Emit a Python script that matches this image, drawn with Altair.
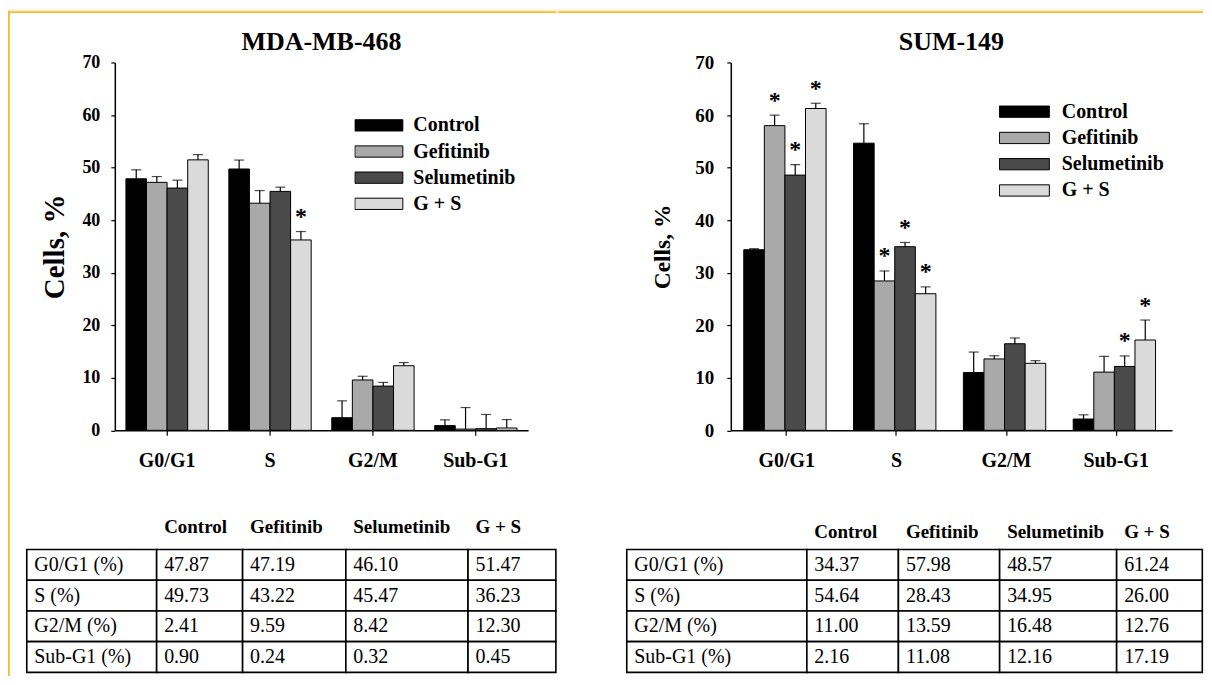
import altair as alt
import pandas as pd

SERIF = "Liberation Serif, Times New Roman, DejaVu Serif, serif"

# ---------------- data ----------------
phases = ["G0/G1", "S", "G2/M", "Sub-G1"]
treatments = ["Control", "Gefitinib", "Selumetinib", "G + S"]
row_labels = ["G0/G1 (%)", "S (%)", "G2/M (%)", "Sub-G1 (%)"]
colors = ["#000000", "#a9a9a9", "#4a4a4a", "#dadada"]
titles = ["MDA-MB-468", "SUM-149"]

# MDA-MB-468 means (%), per treatment, ordered by phase
mda_control = [47.87, 49.73, 2.41, 0.90]
mda_gefitinib = [47.19, 43.22, 9.59, 0.24]
mda_selumetinib = [46.10, 45.47, 8.42, 0.32]
mda_gs = [51.47, 36.23, 12.30, 0.45]
# error (upper bar length)
mda_err_control = [1.7, 1.7, 3.2, 1.1]
mda_err_gefitinib = [1.1, 2.4, 0.7, 4.1]
mda_err_selumetinib = [1.5, 0.8, 0.7, 2.7]
mda_err_gs = [1.0, 1.6, 0.6, 1.6]
mda_sig_control = [False, False, False, False]
mda_sig_gefitinib = [False, False, False, False]
mda_sig_selumetinib = [False, False, False, False]
mda_sig_gs = [False, True, False, False]

# SUM-149
sum_control = [34.37, 54.64, 11.00, 2.16]
sum_gefitinib = [57.98, 28.43, 13.59, 11.08]
sum_selumetinib = [48.57, 34.95, 16.48, 12.16]
sum_gs = [61.24, 26.00, 12.76, 17.19]
sum_err_control = [0.2, 3.7, 3.9, 0.8]
sum_err_gefitinib = [2.0, 1.9, 0.6, 3.0]
sum_err_selumetinib = [2.0, 0.8, 1.1, 2.0]
sum_err_gs = [1.0, 1.3, 0.5, 3.8]
sum_sig_control = [False, False, False, False]
sum_sig_gefitinib = [True, True, False, False]
sum_sig_selumetinib = [True, True, False, True]
sum_sig_gs = [True, True, False, True]


def long_df(means, errs, sigs):
    recs = []
    for t, m, e, s in zip(treatments, means, errs, sigs):
        for i, p in enumerate(phases):
            recs.append(dict(phase=p, treatment=t, mean=m[i], upper=m[i] + e[i], sig=s[i]))
    return pd.DataFrame(recs)


mda_df = long_df([mda_control, mda_gefitinib, mda_selumetinib, mda_gs],
                 [mda_err_control, mda_err_gefitinib, mda_err_selumetinib, mda_err_gs],
                 [mda_sig_control, mda_sig_gefitinib, mda_sig_selumetinib, mda_sig_gs])
sum_df = long_df([sum_control, sum_gefitinib, sum_selumetinib, sum_gs],
                 [sum_err_control, sum_err_gefitinib, sum_err_selumetinib, sum_err_gs],
                 [sum_sig_control, sum_sig_gefitinib, sum_sig_selumetinib, sum_sig_gs])

CREAM = "#fdefd0"
GOLD = "#f5be2a"


def bar_layer(df, lay):
    xs = alt.Scale(domain=phases, paddingInner=lay["pi"], paddingOuter=lay["po"])
    xaxis = alt.Axis(title=None, labelAngle=0, labelFont=SERIF, labelFontSize=20,
                     labelFontWeight="bold", labelColor="black", domainColor="black",
                     domainWidth=1.5, tickColor="black", tickSize=5, tickWidth=1.2,
                     labelPadding=lay["xlabpad"], grid=False)
    yaxis = alt.Axis(title="Cells, %", titleFont=SERIF, titleFontSize=lay["ytitle_fs"],
                     titleFontWeight="bold", titleColor="black", titlePadding=lay["ytitlepad"],
                     labelFont=SERIF, labelFontSize=lay["ylab_fs"], labelFontWeight="bold",
                     labelColor="black", labelPadding=lay["ylabpad"], tickSize=4,
                     tickColor="black", tickWidth=1.2, domainColor="black", domainWidth=1.5,
                     grid=False, values=list(range(0, 71, 10)))
    ys = alt.Scale(domain=[0, 70], nice=False, zero=True)
    x = alt.X("phase:N", sort=phases, scale=xs, axis=xaxis)
    xo = alt.XOffset("treatment:N", sort=treatments,
                     scale=alt.Scale(domain=treatments, paddingInner=0, paddingOuter=0))
    legend = alt.Legend(title=None, orient="none", legendX=lay["legx"], legendY=lay["legy"],
                        direction="vertical",
                        symbolType=lay["sympath"], symbolSize=lay["symsize"],
                        symbolStrokeColor="black", symbolStrokeWidth=1, symbolOffset=0,
                        labelFont=SERIF, labelFontSize=20, labelFontWeight="bold",
                        labelColor="black", labelOffset=lay["laboff"], clipHeight=22,
                        rowPadding=lay["rowpad"], padding=0, labelLimit=300)
    fill = alt.Fill("treatment:N", sort=treatments,
                    scale=alt.Scale(domain=treatments, range=colors), legend=legend)
    base = alt.Chart(df)
    bars = base.mark_bar(stroke="black", strokeWidth=1).encode(
        x=x, xOffset=xo, y=alt.Y("mean:Q", scale=ys, axis=yaxis), fill=fill)
    err = base.mark_rule(color="black", strokeWidth=1.2).encode(
        x=x, xOffset=xo, y=alt.Y("mean:Q", scale=ys, axis=yaxis), y2="upper:Q")
    caps = base.mark_tick(color="black", size=10, thickness=1.2).encode(
        x=x, xOffset=xo, y=alt.Y("upper:Q", scale=ys, axis=yaxis))
    stars = base.transform_filter("datum.sig").mark_text(
        text="*", font=SERIF, fontSize=24, fontWeight="bold", color="black",
        baseline="alphabetic", align="center", dy=-7.5).encode(
        x=x, xOffset=xo, y=alt.Y("upper:Q", scale=ys, axis=yaxis))
    return alt.layer(bars, err, caps, stars)


def table_layer(means, lay):
    cells = []
    for r, lab in enumerate(row_labels):
        cells.append(dict(r=r, c=0, text=lab))
        for c, m in enumerate(means, start=1):
            cells.append(dict(r=r, c=c, text=f"{m[r]:.2f}"))
    df = pd.DataFrame(cells)
    xs = alt.Scale(type="linear", domain=[0, 1, 2, 3, 4, 5], range=lay["cols"],
                   zero=False, nice=False)
    ys = alt.Scale(type="linear", domain=[0, 4], range=lay["rows"], zero=False, nice=False)
    base = alt.Chart(df).transform_calculate(c2="datum.c + 1", r2="datum.r + 1",
                                             rm="datum.r + 0.5")
    grid = base.mark_rect(fill="white", stroke="black", strokeWidth=1.6).encode(
        x=alt.X("c:Q", scale=xs, axis=None), x2="c2:Q",
        y=alt.Y("r:Q", scale=ys, axis=None), y2="r2:Q")
    txt = base.mark_text(align="left", baseline="middle", dx=7.5, font=SERIF,
                         fontSize=20, color="black").encode(
        x=alt.X("c:Q", scale=xs, axis=None), y=alt.Y("rm:Q", scale=ys, axis=None),
        text="text:N")
    hdr = alt.Chart(pd.DataFrame({"c": [1, 2, 3, 4], "label": treatments})).mark_text(
        align="left", baseline="middle", dx=7.5, font=SERIF, fontSize=19,
        fontWeight="bold", color="black").encode(
        x=alt.X("c:Q", scale=xs, axis=None),
        y=alt.YDatum(lay["hdr"], scale=ys, axis=None, type="quantitative"),
        text="label:N")
    return alt.layer(grid, txt, hdr)


def frame_layer(lay, width, title):
    # decorative page frame (cream strip + gold line) and the panel title,
    # in pixels relative to the plot origin
    one = alt.Chart(pd.DataFrame({"title": [title]}))
    ox, oy = lay["origin"]
    x0, x1 = lay["frame_x"]
    layers = [
        one.mark_rect(color=CREAM).encode(
            x=alt.value(x0 - ox), x2=alt.value(x1 - ox),
            y=alt.value(8 - oy), y2=alt.value(10 - oy)),
        one.mark_rect(color=GOLD).encode(
            x=alt.value(x0 - ox), x2=alt.value(x1 - ox),
            y=alt.value(10 - oy), y2=alt.value(11.8 - oy)),
        one.mark_text(font=SERIF, fontSize=26, fontWeight="bold", color="black",
                      align="center", baseline="alphabetic").encode(
            x=alt.value(width / 2), y=alt.value(48.5 - oy), text="title:N"),
    ]
    if lay.get("frame_left"):
        layers.append(one.mark_rect(color=GOLD).encode(
            x=alt.value(8 - ox), x2=alt.value(9.8 - ox),
            y=alt.value(10 - oy), y2=alt.value(676 - oy)))
    return alt.layer(*layers)


lay_left = dict(pi=0.2, po=0.108, xlabpad=15, ytitle_fs=29, ytitlepad=12, ylab_fs=18,
                ylabpad=11, legx=240, legy=52, sympath="M-1,-0.235L1,-0.235L1,0.235L-1,0.235Z",
                symsize=2304, laboff=10, rowpad=4.2,
                cols=[-88.2, 41.9, 128, 231.4, 353.8, 441.8], rows=[487.9, 610.9], hdr=-0.735,
                origin=(115, 61.4), frame_x=(8, 557.6), frame_left=True)
lay_right = dict(pi=0.218, po=0.118, xlabpad=15, ytitle_fs=23.5, ytitlepad=20, ylab_fs=19,
                 ylabpad=13, legx=268.6, legy=38.3, sympath="M-1,-0.226L1,-0.226L1,0.226L-1,0.226Z",
                 symsize=2500, laboff=11.9, rowpad=4.3,
                 cols=[-104.2, 76.2, 167.9, 269.3, 386.5, 472.3], rows=[487.9, 610.9], hdr=-0.57,
                 origin=(730.7, 61.4), frame_x=(557.6, 1203.8))


def panel(df, means, title, lay, width):
    return alt.layer(frame_layer(lay, width, title), bar_layer(df, lay),
                     table_layer(means, lay)).resolve_scale(
        x="independent", y="independent").properties(width=width, height=368.5)


left = panel(mda_df, [mda_control, mda_gefitinib, mda_selumetinib, mda_gs],
             titles[0], lay_left, 414)
right = panel(sum_df, [sum_control, sum_gefitinib, sum_selumetinib, sum_gs],
              titles[1], lay_right, 442)

chart = alt.hconcat(left, right, spacing=0).resolve_scale(fill="independent").resolve_legend(
    fill="independent").properties(
    padding={"left": 0, "top": 0, "right": 0, "bottom": 0}, background="white"
).configure_view(stroke=None)

chart.save("out.html", embed_options={"renderer": "svg", "actions": False})
